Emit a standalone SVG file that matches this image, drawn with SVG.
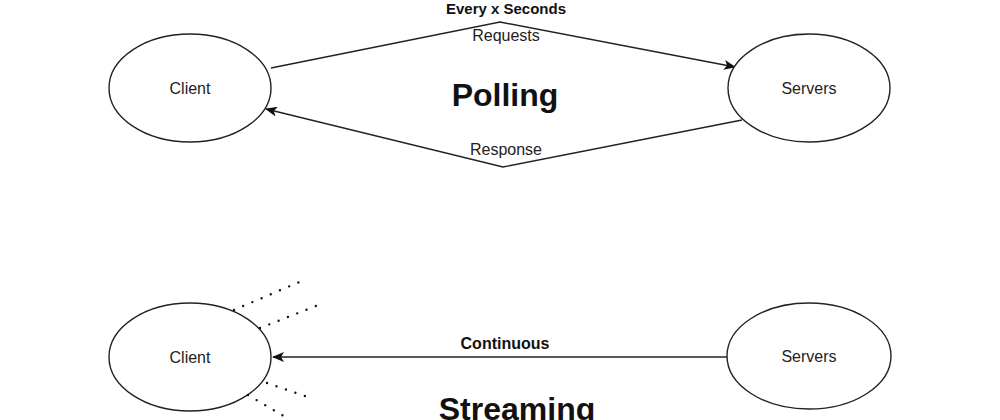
<svg xmlns="http://www.w3.org/2000/svg" width="1000" height="420" viewBox="0 0 1000 420">
<style>
.node{fill:#fff;stroke:#222;stroke-width:1.4}
.edge{fill:none;stroke:#222;stroke-width:1.4}
.dots{fill:none;stroke:#111;stroke-width:2.4;stroke-linecap:round;stroke-dasharray:0 10}
.t{font-family:"Liberation Sans",Arial,sans-serif;font-size:16px;fill:#222;text-anchor:middle}
.b{font-weight:bold;fill:#111}
.big{font-family:"Liberation Sans",Arial,sans-serif;font-size:32px;font-weight:bold;fill:#111;text-anchor:middle}
</style>
<defs>
<marker id="arr" viewBox="0 0 12 10" refX="11" refY="5" markerWidth="12" markerHeight="10" markerUnits="userSpaceOnUse" orient="auto">
<path d="M0,0 L12,5 L0,10 L3,5 z" fill="#111"/>
</marker>
</defs>
<rect width="1000" height="420" fill="#fff"/>
<g id="connectors">
<path class="edge" d="M271,68 L500,22 L735,67" marker-end="url(#arr)"/>
<path class="edge" d="M742,120 L503,167 L266,109" marker-end="url(#arr)"/>
<path class="edge" d="M728,357 L273,357" marker-end="url(#arr)"/>
</g>
<g id="client-polling"><ellipse class="node" cx="190" cy="88" rx="81" ry="54"/><text class="t" x="190" y="94">Client</text></g>
<g id="servers-polling"><ellipse class="node" cx="809" cy="88" rx="81" ry="54"/><text class="t" x="809" y="94">Servers</text></g>
<g id="client-streaming"><ellipse class="node" cx="190" cy="357" rx="81" ry="54"/><text class="t" x="190" y="363">Client</text></g>
<g id="servers-streaming"><ellipse class="node" cx="809" cy="356" rx="82" ry="53"/><text class="t" x="809" y="362">Servers</text></g>
<g id="dots">
<path class="dots" d="M234,310 L304,280"/>
<path class="dots" d="M260,328 L321,304"/>
<path class="dots" d="M267,383 L308,397"/>
<path class="dots" d="M248,395 L287,418"/>
</g>
<g id="labels">
<text class="t b" style="font-size:15px" x="506" y="14">Every x Seconds</text>
<text class="t" x="506" y="41">Requests</text>
<text class="t" x="506" y="155">Response</text>
<text class="t b" x="505" y="349">Continuous</text>
<text class="big" x="505" y="106">Polling</text>
<text class="big" x="517" y="420">Streaming</text>
</g>
</svg>
